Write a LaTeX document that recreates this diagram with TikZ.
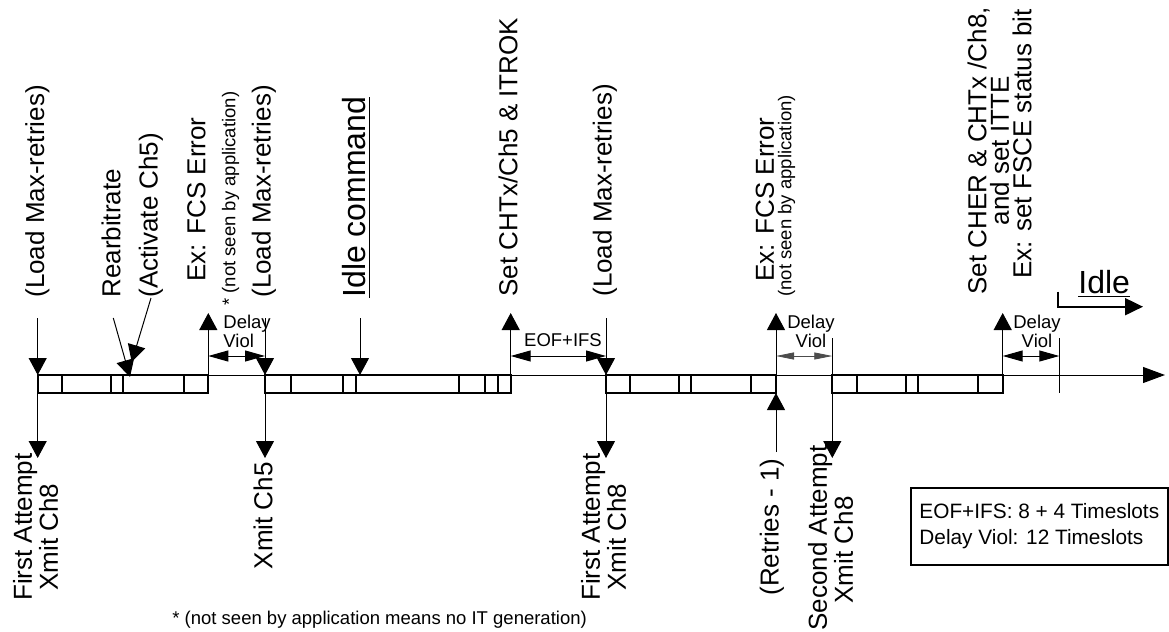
\documentclass[tikz,border=0pt]{standalone}
\usepackage{fontspec}
\setmainfont{Liberation Sans}
\usetikzlibrary{arrows.meta}

\begin{document}
\begin{tikzpicture}[
        x=0.5pt, y=-0.5pt,
        lbl/.style={font=\fontsize{13}{13}\selectfont, inner sep=0pt, align=center},
        toplbl/.style={lbl, rotate=90, anchor=west},
        botlbl/.style={lbl, rotate=90, anchor=east},
        smalllbl/.style={font=\fontsize{9.25}{8.5}\selectfont, inner sep=0pt, align=center},
        biglbl/.style={font=\fontsize{16}{16}\selectfont, inner sep=0pt},
        framebox/.style={line width=1.1pt},
        evarrow/.style={-{Triangle[length=8.5pt, width=9pt]}, line width=0.5pt},
        spanarrow/.style={{Triangle[length=10pt, width=5.5pt]}-{Triangle[length=10pt, width=5.5pt]}, line width=0.5pt},
        thinspan/.style={{Triangle[length=9pt, width=3.5pt]}-{Triangle[length=9pt, width=3.5pt]}, line width=0.4pt, black!70},
        tickline/.style={line width=0.5pt}
    ]
        \useasboundingbox (0,0) rectangle (1169,632);

        \foreach \n/\x in {1/37.7, 2/208.3, 3/265, 4/360, 5/510.7, 6/606, 7/776, 8/832.3, 9/1002.7, 10/1059.3} {
            \coordinate (a\n) at (\x,318);
            \coordinate (k\n) at (\x,338);
            \coordinate (h\n) at (\x,313);
            \coordinate (s\n) at (\x,356);
            \coordinate (t\n) at (\x,375);
            \coordinate (u\n) at (\x,393);
            \coordinate (b\n) at (\x,458);
        }
        \coordinate (ax1) at (1165,375);
        \coordinate (r7) at (776,452);
        \coordinate (rb0) at (113.3,318);
        \coordinate (rb1) at (130,377);
        \coordinate (ac1) at (131.7,362);
        \coordinate (id0) at (1058,291.7);
        \coordinate (id1) at (1143,306.7);

        \draw[-{Triangle[length=11pt, width=8pt]}, line width=0.5pt] (t1) -- (ax1);

        \foreach \xa/\xb/\divs in {37.7/208.3/{62.3,111,122.7,184}, 265/510.7/{291,342.7,356,459.3,485,497.7}, 606/776/{630,679,690.7,751}, 832.3/1002.7/{856.7,905.7,917.7,978.3}} {
            \draw[framebox] (\xa,375) rectangle (\xb,393);
            \foreach \d in \divs
                \draw[framebox] (\d,375) -- (\d,393);
        }

        \node[toplbl] (lmr1) at (37.5,298) {(Load Max-retries)};
        \node[toplbl] (rearb) at (111,298) {Rearbitrate};
        \node[toplbl] (activ) at (151,298) {(Activate Ch5)};
        \node[toplbl] (fcs1) at (196.5,282) {Ex: FCS Error};
        \node[smalllbl, rotate=90, anchor=west] (nsba1) at (230.5,306) {* (not seen by application)};
        \node[toplbl] (lmr2) at (264,298) {(Load Max-retries)};
        \node[toplbl, font=\fontsize{16}{16}\selectfont] (idlec) at (356.5,298) {\underline{Idle command}};
        \node[toplbl] (chtx) at (508,297) {Set CHTx/Ch5 \& ITROK};
        \node[toplbl] (lmr3) at (605,297) {(Load Max-retries)};
        \node[toplbl] (fcs2) at (765,282) {Ex: FCS Error};
        \node[smalllbl, rotate=90, anchor=west] (nsba2) at (786.5,297) {(not seen by application)};
        \node[toplbl, font=\fontsize{13}{11.25}\selectfont] (cher) at (999.5,295) {Set CHER \& CHTx /Ch8,\\and set ITTE\hspace*{14pt}\\\hspace*{7pt}Ex: set FSCE status bit};
        \node[biglbl, anchor=base west] (idle) at (1078,293) {\underline{Idle}};

        \node[botlbl] (fa1) at (35.5,453) {First Attempt\\Xmit Ch8\hspace*{10pt}};
        \node[botlbl] (xch5) at (263,462) {Xmit Ch5};
        \node[botlbl] (fa2) at (603.5,453) {First Attempt\\Xmit Ch8\hspace*{10pt}};
        \node[botlbl] (ret) at (772,458) {(Retries - 1)};
        \node[botlbl] (sa) at (830.5,445) {Second Attempt\\Xmit Ch8\hspace*{12pt}};

        \node[smalllbl, align=left, anchor=north west] (dv1) at (223,314.5) {Delay\\Viol};
        \node[smalllbl, anchor=base] (eof) at (563,346.7) {EOF+IFS};
        \node[smalllbl, anchor=north] (dv2) at (811,314.5) {Delay\\Viol};
        \node[smalllbl, anchor=north] (dv3) at (1037,314.5) {Delay\\Viol};

        \node[smalllbl, anchor=base west] (fnote) at (172,624) {* (not seen by application means no IT generation)};
        \node[draw, line width=0.9pt, font=\fontsize{10.4}{13}\selectfont, align=left, minimum width=128.6pt, minimum height=38.5pt, inner sep=0pt] (legend) at (1039.3,526.5) {EOF+IFS: 8 + 4 Timeslots\\Delay Viol: 12 Timeslots};

        \draw[evarrow] (a1) -- (t1);
        \draw[evarrow] (u1) -- (b1);
        \draw[evarrow] (rb0) -- (rb1);
        \draw[evarrow] (activ.west) -- (ac1);
        \draw[evarrow] (t2) -- (h2);
        \draw[evarrow] (a3) -- (t3);
        \draw[evarrow] (u3) -- (b3);
        \draw[evarrow] (a4) -- (t4);
        \draw[evarrow] (t5) -- (h5);
        \draw[evarrow] (a6) -- (t6);
        \draw[evarrow] (u6) -- (b6);
        \draw[evarrow] (t7) -- (h7);
        \draw[evarrow] (r7) -- (u7);
        \draw[evarrow] (k8) -- (b8);
        \draw[evarrow] (t9) -- (h9);
        \draw[tickline] (k10) -- (u10);

        \draw[spanarrow] (s2) -- (s3);
        \draw[spanarrow] (s5) -- (s6);
        \draw[thinspan] (s7) -- (s8);
        \draw[spanarrow] (s9) -- (s10);

        \draw[line width=1pt, -{Triangle[length=9pt, width=8.5pt]}] (id0) |- (id1);
    \end{tikzpicture}
\end{document}
